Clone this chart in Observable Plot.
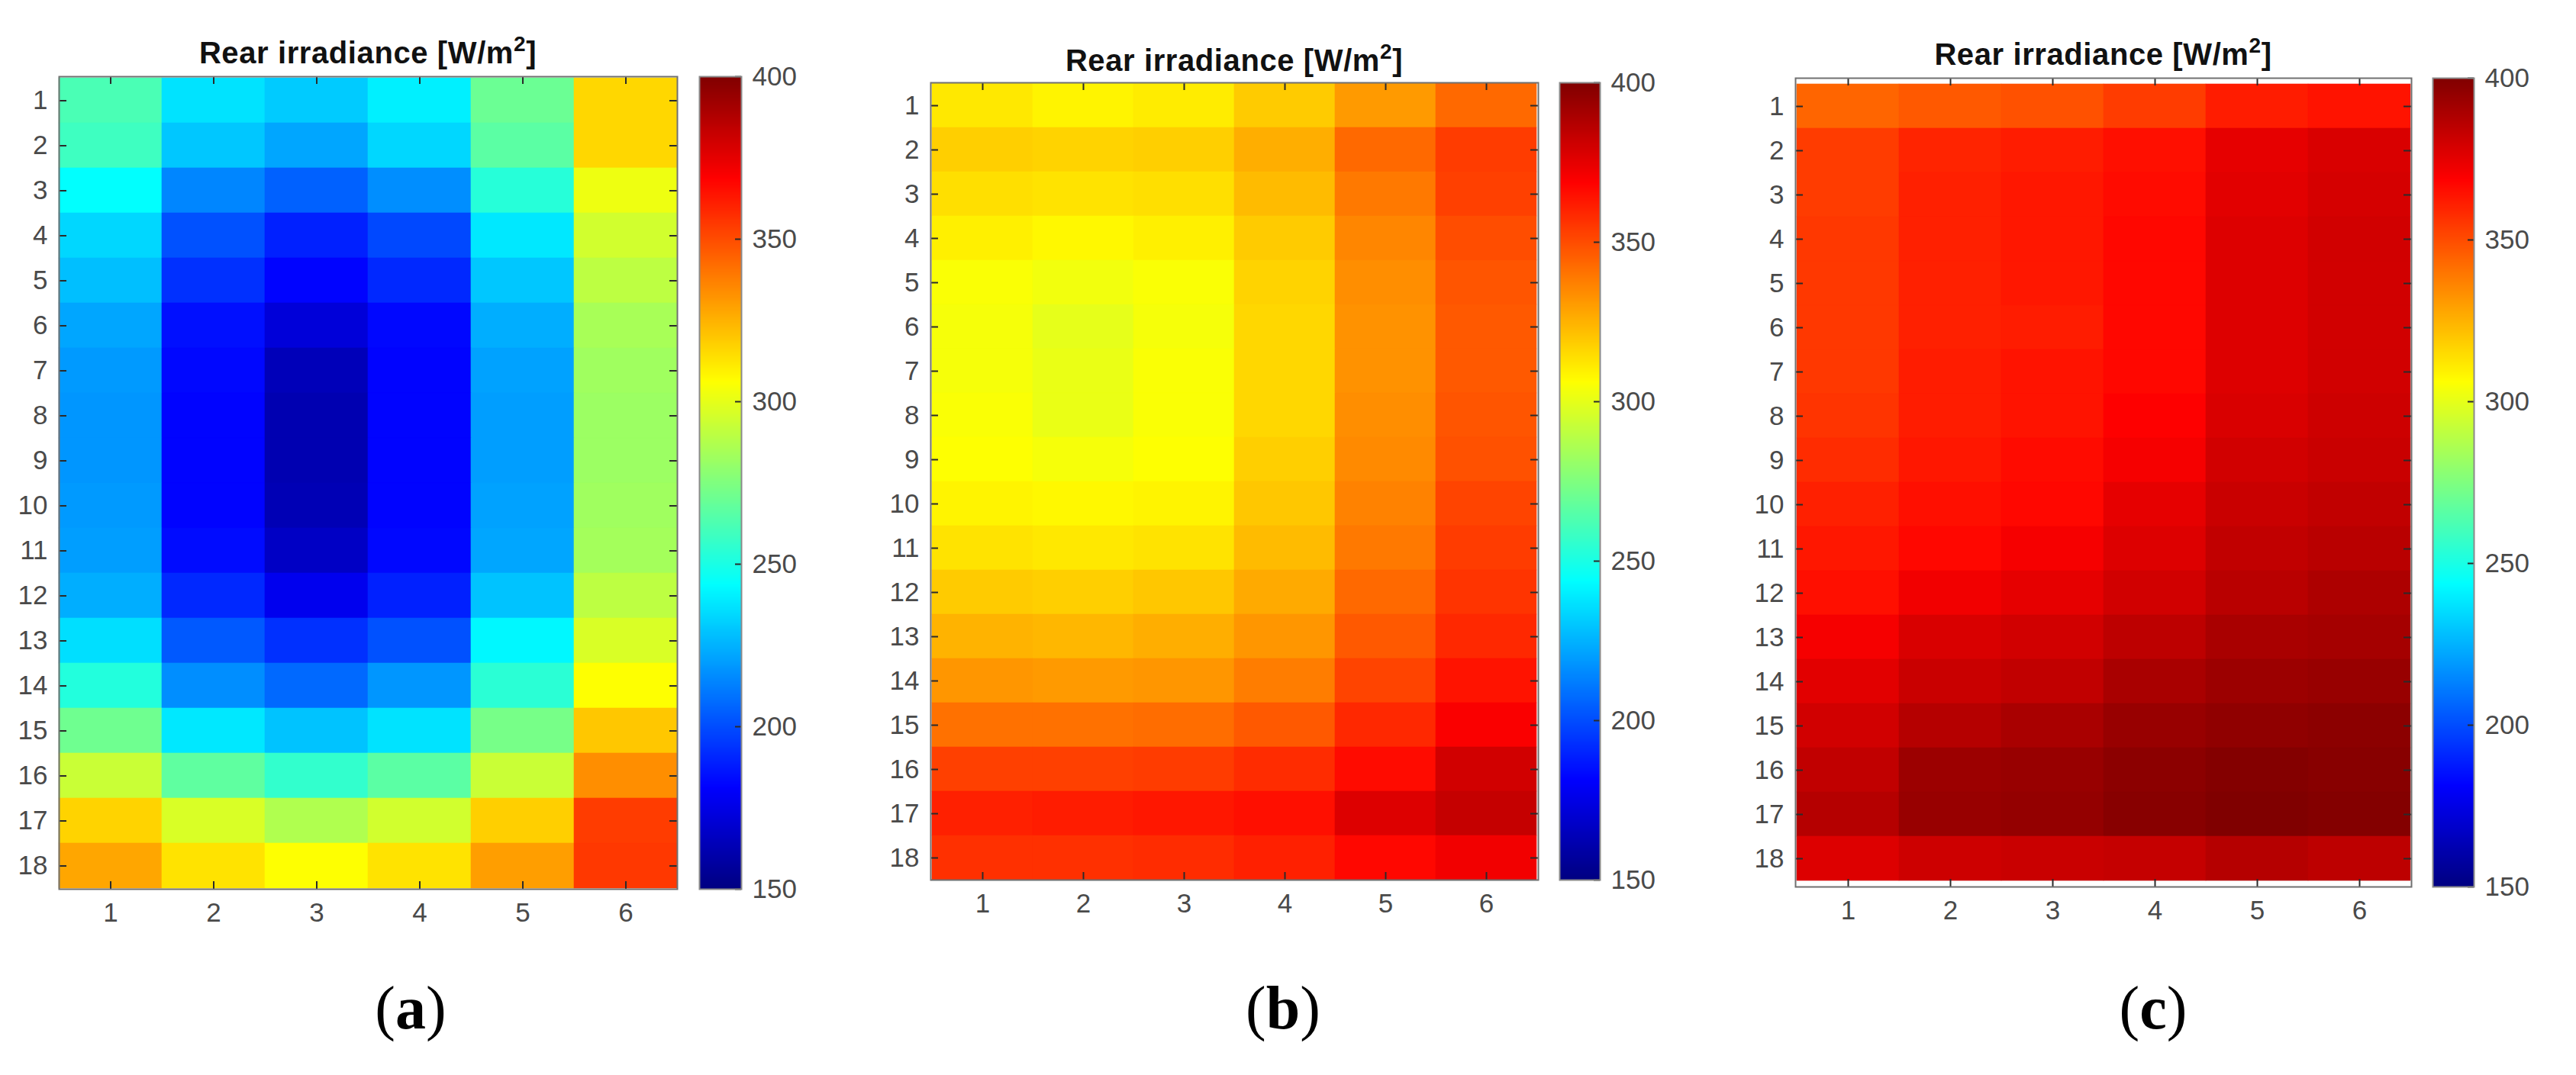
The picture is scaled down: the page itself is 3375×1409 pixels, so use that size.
<!DOCTYPE html>
<html>
<head>
<meta charset="utf-8">
<script src="https://cdn.jsdelivr.net/npm/d3@7"></script>
<script src="https://cdn.jsdelivr.net/npm/@observablehq/plot@0.6"></script>
<style>
  body { margin: 0; background: #fff; }
  #root { position: relative; width: 3375px; height: 1409px; background: #fff; overflow: hidden; font-family: "Liberation Sans", Arial, sans-serif; }
  #root svg { position: absolute; top: 0; }
  .title { position: absolute; font-weight: bold; font-size: 40px; letter-spacing: 0.6px; line-height: 1; color: #111; white-space: nowrap; transform: translateX(-50%); }
  .title .sup { font-size: 28px; position: relative; top: -16px; }
  .cap { position: absolute; font-family: "Liberation Serif", "Times New Roman", serif; font-size: 80px; line-height: 1; color: #000; white-space: nowrap; transform: translateX(-50%); }
</style>
</head>
<body>
<div id="root"></div>
<script>
// ---------------- data ----------------
const rowLabels = [1, 2, 3, 4, 5, 6, 7, 8, 9, 10, 11, 12, 13, 14, 15, 16, 17, 18];
const colLabels = [1, 2, 3, 4, 5, 6];
const colorbarTicks = [150, 200, 250, 300, 350, 400];
const colorbarRange = [150, 400];
const titleText = "Rear irradiance [W/m";
const titleSup = "2";
const panelLetters = ["a", "b", "c"];

const irradianceA = [
  [262, 237, 231, 240, 270, 316],
  [259, 230, 222, 234, 266, 316],
  [244, 214, 205, 216, 253, 302],
  [234, 201, 189, 199, 238, 295],
  [228, 193, 182, 191, 230, 290],
  [222, 185, 172, 183, 224, 285],
  [219, 183, 164, 182, 221, 283],
  [218, 182, 162, 182, 220, 282],
  [218, 182, 162, 182, 220, 282],
  [219, 182, 163, 182, 221, 283],
  [220, 184, 167, 183, 222, 284],
  [224, 191, 177, 189, 229, 290],
  [236, 203, 193, 201, 242, 297],
  [252, 216, 207, 218, 254, 306],
  [271, 238, 229, 237, 273, 320],
  [293, 267, 256, 266, 293, 334],
  [317, 297, 287, 295, 318, 354],
  [328, 313, 306, 313, 330, 355]
];

const irradianceB = [
  [312, 309, 311, 319, 331, 343],
  [318, 317, 318, 326, 343, 354],
  [314, 313, 314, 323, 339, 353],
  [310, 308, 310, 319, 336, 350],
  [305, 303, 305, 317, 334, 348],
  [304, 300, 304, 316, 333, 347],
  [304, 301, 305, 316, 333, 347],
  [305, 301, 305, 316, 334, 348],
  [306, 304, 306, 318, 335, 349],
  [309, 308, 309, 320, 337, 352],
  [313, 312, 313, 323, 339, 354],
  [319, 318, 320, 327, 343, 356],
  [325, 324, 326, 332, 347, 359],
  [332, 331, 332, 338, 352, 364],
  [341, 341, 342, 347, 359, 370],
  [353, 353, 354, 358, 366, 380],
  [361, 362, 363, 365, 377, 383],
  [357, 357, 358, 361, 367, 372]
];

const irradianceC = [
  [344, 347, 349, 354, 362, 364],
  [354, 360, 362, 365, 375, 378],
  [354, 361, 363, 366, 376, 379],
  [355, 361, 363, 367, 377, 380],
  [355, 361, 363, 367, 377, 380],
  [355, 361, 362, 367, 377, 380],
  [355, 362, 364, 367, 377, 380],
  [356, 362, 364, 369, 378, 381],
  [358, 363, 366, 371, 380, 382],
  [361, 365, 367, 375, 382, 384],
  [363, 367, 371, 377, 384, 386],
  [365, 372, 375, 380, 386, 389],
  [371, 378, 380, 385, 390, 391],
  [376, 382, 384, 390, 393, 394],
  [380, 387, 390, 394, 396, 397],
  [384, 393, 394, 397, 399, 398],
  [387, 394, 395, 398, 400, 399],
  [377, 381, 382, 383, 387, 385]
];

const panels = [irradianceA, irradianceB, irradianceC];

// ---------------- colour scale (MATLAB jet, 150–400) ----------------
const jetStops = [150, 181.25, 243.75, 306.25, 368.75, 400];
const jetColors = ["#000080", "#0000ff", "#00ffff", "#ffff00", "#ff0000", "#800000"];
const colorScale = { type: "linear", domain: jetStops, range: jetColors, interpolate: "rgb", clamp: true };

// ---------------- layout ----------------
const layouts = [
  { left: 77,   right: 887,  top: 100, bottom: 1165, cbLeft: 916,  cbRight: 971,  titleY: 85, capX: 538 },
  { left: 1219, right: 2015, top: 108, bottom: 1153, cbLeft: 2043, cbRight: 2096, titleY: 95, capX: 1681 },
  { left: 2352, right: 3159, top: 102, bottom: 1162, cbLeft: 3187, cbRight: 3241, titleY: 87, capX: 2821 }
];

const root = document.getElementById("root");
const textColor = "#4a4a4a";
const tickColor = "#2a2a2a";
const fontStyle = { fontFamily: "Liberation Sans, Arial, sans-serif", fontSize: "35px", color: textColor, background: "transparent", overflow: "visible" };

panels.forEach((values, p) => {
  const g = layouts[p];
  const data = [];
  values.forEach((row, i) => row.forEach((v, j) => data.push({ row: rowLabels[i], col: colLabels[j], v })));
  const plotW = g.right - g.left, plotH = g.bottom - g.top;
  const mL = 90, mR = 20, mB = 80;

  const heat = Plot.plot({
    width: plotW + mL + mR,
    height: g.bottom + mB,
    marginLeft: mL, marginRight: mR, marginTop: g.top, marginBottom: mB,
    style: fontStyle,
    x: { type: "band", domain: colLabels, padding: 0 },
    y: { type: "band", domain: rowLabels, padding: 0 },
    color: colorScale,
    marks: [
      Plot.cell(data, { x: "col", y: "row", fill: "v", stroke: "v", strokeWidth: 0.6, inset: 0 }),
      Plot.tickX(colLabels, { x: d => d, insetTop: plotH - 10, stroke: tickColor, strokeWidth: 2 }),
      Plot.tickX(colLabels, { x: d => d, insetBottom: plotH - 10, stroke: tickColor, strokeWidth: 2 }),
      Plot.tickY(rowLabels, { y: d => d, insetRight: plotW - 10, stroke: tickColor, strokeWidth: 2 }),
      Plot.tickY(rowLabels, { y: d => d, insetLeft: plotW - 10, stroke: tickColor, strokeWidth: 2 }),
      Plot.frame({ stroke: "#707070", strokeWidth: 2 }),
      Plot.axisX({ anchor: "bottom", tickSize: 0, tickPadding: 18, label: null, fill: textColor }),
      Plot.axisY({ anchor: "left", tickSize: 0, tickPadding: 15, label: null, fill: textColor })
    ]
  });
  heat.style.left = (g.left - mL) + "px";
  root.appendChild(heat);

  // colour bar
  const cbW = g.cbRight - g.cbLeft;
  const cbMR = 120, cbML = 2;
  const bar = Plot.plot({
    width: cbW + cbML + cbMR,
    height: g.bottom + 40,
    marginLeft: cbML, marginRight: cbMR, marginTop: g.top, marginBottom: 40,
    style: fontStyle,
    x: { domain: [0, 1], axis: null },
    y: { domain: colorbarRange, axis: null },
    color: colorScale,
    marks: [
      Plot.raster({
        x1: 0, x2: 1, y1: colorbarRange[0], y2: colorbarRange[1],
        width: 1, height: 1000,
        fill: (x, y) => y
      }),
      Plot.tickY(colorbarTicks, { y: d => d, insetLeft: cbW - 8, stroke: tickColor, strokeWidth: 2 }),
      Plot.frame({ stroke: "#8a8a8a", strokeWidth: 2 }),
      Plot.axisY(colorbarTicks, { anchor: "right", tickSize: 0, tickPadding: 14, label: null, fill: textColor })
    ]
  });
  bar.style.left = (g.cbLeft - cbML) + "px";
  root.appendChild(bar);

  // title
  const t = document.createElement("div");
  t.className = "title";
  t.style.left = ((g.left + g.right) / 2) + "px";
  t.style.top = (g.titleY - 36) + "px";
  t.innerHTML = titleText + '<span class="sup">' + titleSup + '</span>]';
  root.appendChild(t);

  // caption (a)/(b)/(c)
  const c = document.createElement("div");
  c.className = "cap";
  c.style.left = g.capX + "px";
  c.style.top = (1352 - 71) + "px";
  c.innerHTML = '(<b>' + panelLetters[p] + '</b>)';
  root.appendChild(c);
});
</script>
</body>
</html>
